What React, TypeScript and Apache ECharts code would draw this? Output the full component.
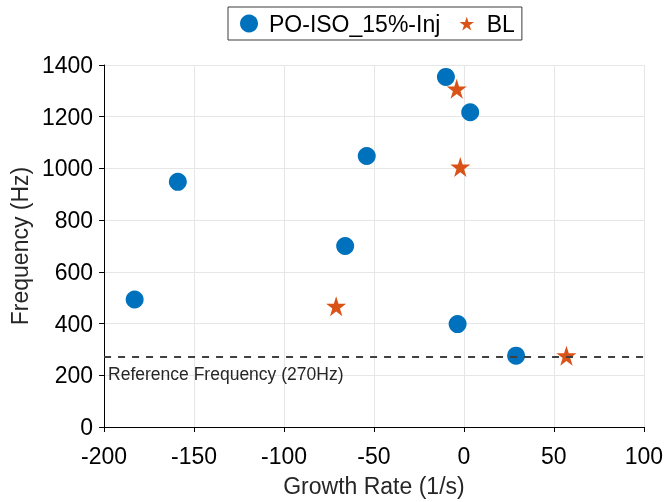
import React, { useEffect, useRef } from "react";
import * as echarts from "echarts";

const blueName = "PO-ISO_15%-Inj";
const blueX = [-183, -159, -66, -54, -10, 3.5, -3.5, 29];
const blueY = [493, 948, 700, 1048, 1354, 1217, 398, 276];
const starName = "BL";
const starX = [-71, -4, -2, 57];
const starY = [467, 1308, 1006, 276];
const refFreq = 270;
const refLabel = "Reference Frequency (270Hz)";

const STAR_D =
  "M50,0 L61.2,34.5 L97.6,34.5 L68.2,55.9 L79.4,90.5 L50,69.1 L20.6,90.5 L31.8,55.9 L2.4,34.5 L38.8,34.5 Z";
const STAR = "path://" + STAR_D;
const STAR_LEGEND = "path://M-12,-14 L-12,-14 Z M112,104 L112,104 Z " + STAR_D;

const FONT = "'Liberation Sans', Arial, Helvetica, sans-serif";
const TXT = "#262626";

export default function App() {
  const ref = useRef<HTMLDivElement>(null);
  useEffect(() => {
    if (!ref.current) return;
    const chart = echarts.init(ref.current, undefined, { renderer: "svg" });
    chart.setOption({
      animation: false,
      textStyle: { fontFamily: FONT },
      legend: {
        top: 7,
        left: 228,
        padding: [5, 7, 5, 12],
        borderColor: "#3c3c3c",
        borderWidth: 1,
        itemWidth: 30,
        itemHeight: 18,
        itemGap: 17,
        symbolKeepAspect: true,
        textStyle: { fontSize: 23, color: "#000", fontFamily: FONT },
        data: [
          { name: blueName, icon: "circle" },
          { name: starName, icon: STAR_LEGEND },
        ],
      },
      grid: { left: 104, right: 21, top: 65, bottom: 71, containLabel: false },
      xAxis: {
        type: "value",
        min: -200,
        max: 100,
        interval: 50,
        name: "Growth Rate (1/s)",
        nameLocation: "middle",
        nameGap: 47,
        nameTextStyle: { fontSize: 23, color: TXT, fontFamily: FONT },
        axisLine: { show: true, onZero: false, lineStyle: { color: "#000", width: 1 } },
        axisTick: { show: true, inside: false, length: 5, lineStyle: { color: "#000" } },
        axisLabel: { fontSize: 23, color: "#000", margin: 17, fontFamily: FONT },
        splitLine: { show: true, lineStyle: { color: "#e6e6e6", width: 1 } },
      },
      yAxis: {
        type: "value",
        min: 0,
        max: 1400,
        interval: 200,
        name: "Frequency (Hz)",
        nameLocation: "middle",
        nameGap: 69,
        nameTextStyle: { fontSize: 23, color: TXT, fontFamily: FONT },
        axisLine: { show: true, onZero: false, lineStyle: { color: "#000", width: 1 } },
        axisTick: { show: true, inside: false, length: 5, lineStyle: { color: "#000" } },
        axisLabel: {
          fontSize: 23,
          color: "#000",
          margin: 11,
          fontFamily: FONT,
          formatter: (v: number) => String(v),
        },
        splitLine: { show: true, lineStyle: { color: "#e6e6e6", width: 1 } },
      },
      series: [
        {
          name: blueName,
          type: "scatter",
          symbol: "circle",
          symbolSize: 18,
          itemStyle: { color: "#0072BD", opacity: 1 },
          data: blueX.map((x, i) => [x, blueY[i]]),
          z: 3,
          markLine: {
            silent: true,
            symbol: "none",
            z: 5,
            lineStyle: { color: "#404040", type: [7, 7], width: 2 },
            label: {
              show: true,
              position: "insideStartBottom",
              formatter: refLabel,
              fontSize: 17.5,
              color: TXT,
              fontFamily: FONT,
              distance: [4, 8],
            },
            data: [{ yAxis: refFreq }],
          },
        },
        {
          name: starName,
          type: "scatter",
          symbol: STAR,
          symbolSize: 20,
          itemStyle: { color: "#D95319", opacity: 1 },
          data: starX.map((x, i) => [x, starY[i]]),
          z: 4,
        },
      ],
    });
    return () => chart.dispose();
  }, []);
  return (
    <div
      ref={ref}
      style={{ position: "fixed", left: 0, top: 0, width: 666, height: 502 }}
    />
  );
}
